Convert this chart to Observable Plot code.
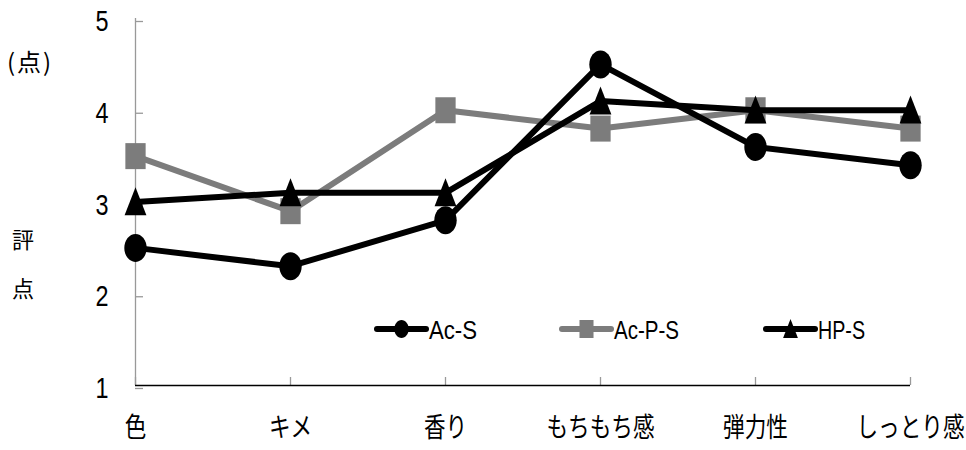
<!DOCTYPE html>
<html>
<head>
<meta charset="utf-8">
<script src="https://cdn.jsdelivr.net/npm/d3@7"></script>
<script src="https://cdn.jsdelivr.net/npm/@observablehq/plot@0.6"></script>
<style>
  body { margin: 0; background: #fff; }
  #chart { position: relative; width: 966px; height: 450px; }
  #chart svg { position: absolute; left: 0; top: 0; }
</style>
</head>
<body>
<div id="chart"></div>
<script>
// Sensory evaluation scores per attribute
const categories = ["色", "キメ", "香り", "もちもち感", "弾力性", "しっとり感"];
const seriesNames = ["Ac-S", "Ac-P-S", "HP-S"];
const acS  = [2.5, 2.3, 2.8, 4.5, 3.6, 3.4];
const acPS = [3.5, 2.9, 4.0, 3.8, 4.0, 3.8];
const hpS  = [3.0, 3.1, 3.1, 4.1, 4.0, 4.0];
const yTicks = [1, 2, 3, 4, 5];

const GRAY = "#7c7c7c";
const LATIN = "'Liberation Sans', Arial, sans-serif";
const CJK = "'Noto Sans CJK JP', sans-serif";

// Marker shapes, slightly taller than wide
const ellipseSym = {
  draw(ctx, size) {
    const r = Math.sqrt(size / Math.PI), rx = r * 0.8, ry = r, k = 0.5523;
    ctx.moveTo(rx, 0);
    ctx.bezierCurveTo(rx, ry * k, rx * k, ry, 0, ry);
    ctx.bezierCurveTo(-rx * k, ry, -rx, ry * k, -rx, 0);
    ctx.bezierCurveTo(-rx, -ry * k, -rx * k, -ry, 0, -ry);
    ctx.bezierCurveTo(rx * k, -ry, rx, -ry * k, rx, 0);
    ctx.closePath();
  }
};
const rectSym = {
  draw(ctx, size) {
    const r = Math.sqrt(size / Math.PI), w = r * 0.78, h = r;
    ctx.moveTo(-w, -h); ctx.lineTo(w, -h); ctx.lineTo(w, h); ctx.lineTo(-w, h); ctx.closePath();
  }
};
const triSym = {
  draw(ctx, size) {
    const r = Math.sqrt(size / Math.PI);
    ctx.moveTo(0, -r * 1.05); ctx.lineTo(r * 0.78, r * 0.95); ctx.lineTo(-r * 0.78, r * 0.95); ctx.closePath();
  }
};

const tidy = (name, vals) => categories.map((c, i) => ({ series: name, cat: c, value: vals[i] }));

// drawing order: gray series underneath, black series on top
const series = [
  { data: tidy(seriesNames[1], acPS), color: GRAY,   symbol: rectSym,    r: 13 },
  { data: tidy(seriesNames[0], acS),  color: "#000", symbol: ellipseSym, r: 14 },
  { data: tidy(seriesNames[2], hpS),  color: "#000", symbol: triSym,     r: 14 }
];

const seriesMarks = series.flatMap(s => [
  Plot.line(s.data, { x: "cat", y: "value", stroke: s.color, strokeWidth: 6, strokeLinejoin: "round" }),
  Plot.dot(s.data, { x: "cat", y: "value", symbol: () => s.symbol, r: s.r, fill: s.color, stroke: "none" })
]);

const plot = Plot.plot({
  width: 966,
  height: 450,
  marginLeft: 135,
  marginRight: 56,
  marginTop: 18,
  marginBottom: 65,
  style: { background: "#fff", overflow: "visible" },
  x: { type: "point", domain: categories, padding: 0 },
  y: { domain: [1, 5] },
  symbol: { type: "identity" },
  marks: [
    Plot.ruleX([categories[0]], { stroke: "#999", strokeWidth: 1.3 }),
    Plot.axisY(yTicks, {
      tickSize: -8, tickPadding: 35, stroke: "#999", strokeWidth: 1.3, tickFormat: "d",
      fontSize: 30, fontFamily: LATIN, fill: "#000", label: null, dy: 3
    }),
    Plot.axisX(categories, {
      tickSize: -8, tickPadding: 40, stroke: "#999", strokeWidth: 1.3,
      fontSize: 27, fontFamily: CJK, fill: "#000", label: null
    }),
    Plot.ruleY([1], { stroke: "#000", strokeWidth: 1.3 }),
    ...seriesMarks
  ]
});

// condensed lettering for the tick labels: horizontal squeeze about each anchor
function squeeze(selector, k) {
  plot.querySelectorAll(selector).forEach(t => {
    const tr = t.getAttribute("transform");
    if (tr) {
      t.setAttribute("transform", `${tr} scale(${k},1)`);
    } else {
      const x = +t.getAttribute("x") || 0, y = +t.getAttribute("y") || 0;
      t.removeAttribute("x"); t.removeAttribute("y");
      t.setAttribute("transform", `translate(${x},${y}) scale(${k},1)`);
    }
  });
}
squeeze('g[aria-label="y-axis tick label"] text', 0.78);
squeeze('g[aria-label="x-axis tick label"] text', 0.8);

const chart = document.getElementById("chart");
chart.appendChild(plot);

// Overlay: y-axis title and in-plot legend
const ov = d3.select(chart).append("svg")
  .attr("width", 966).attr("height", 450)
  .style("pointer-events", "none");

const titleG = ov.append("g").attr("font-family", CJK).attr("fill", "#000");
titleG.append("text").attr("x", 30).attr("y", 60).attr("font-size", 24)
  .attr("text-anchor", "middle").attr("dominant-baseline", "central")
  .attr("letter-spacing", 2).text("(点)");
titleG.append("text").attr("x", 23).attr("y", 238).attr("font-size", 22)
  .attr("text-anchor", "middle").attr("dominant-baseline", "central").text("評");
titleG.append("text").attr("x", 23).attr("y", 287).attr("font-size", 22)
  .attr("text-anchor", "middle").attr("dominant-baseline", "central").text("点");

const legendItems = [
  { name: seriesNames[0], x0: 377, w: 48, color: "#000", symbol: ellipseSym, size: Math.PI * 9 * 9 },
  { name: seriesNames[1], x0: 562, w: 65, color: GRAY,   symbol: rectSym,    size: Math.PI * 9 * 9 },
  { name: seriesNames[2], x0: 766, w: 47, color: "#000", symbol: triSym,     size: Math.PI * 9.5 * 9.5 }
];
const ly = 329;
const lg = ov.append("g");
legendItems.forEach(it => {
  lg.append("line").attr("x1", it.x0).attr("x2", it.x0 + 49).attr("y1", ly).attr("y2", ly)
    .attr("stroke", it.color).attr("stroke-width", 6).attr("stroke-linecap", "round");
  lg.append("path").attr("transform", `translate(${it.x0 + 24.5},${ly})`)
    .attr("d", d3.symbol(it.symbol, it.size)()).attr("fill", it.color);
  lg.append("text").attr("x", it.x0 + 52).attr("y", ly + 1).attr("dominant-baseline", "central")
    .attr("font-family", LATIN).attr("font-size", 25).attr("fill", "#000")
    .attr("textLength", it.w).attr("lengthAdjust", "spacingAndGlyphs").text(it.name);
});
</script>
</body>
</html>
